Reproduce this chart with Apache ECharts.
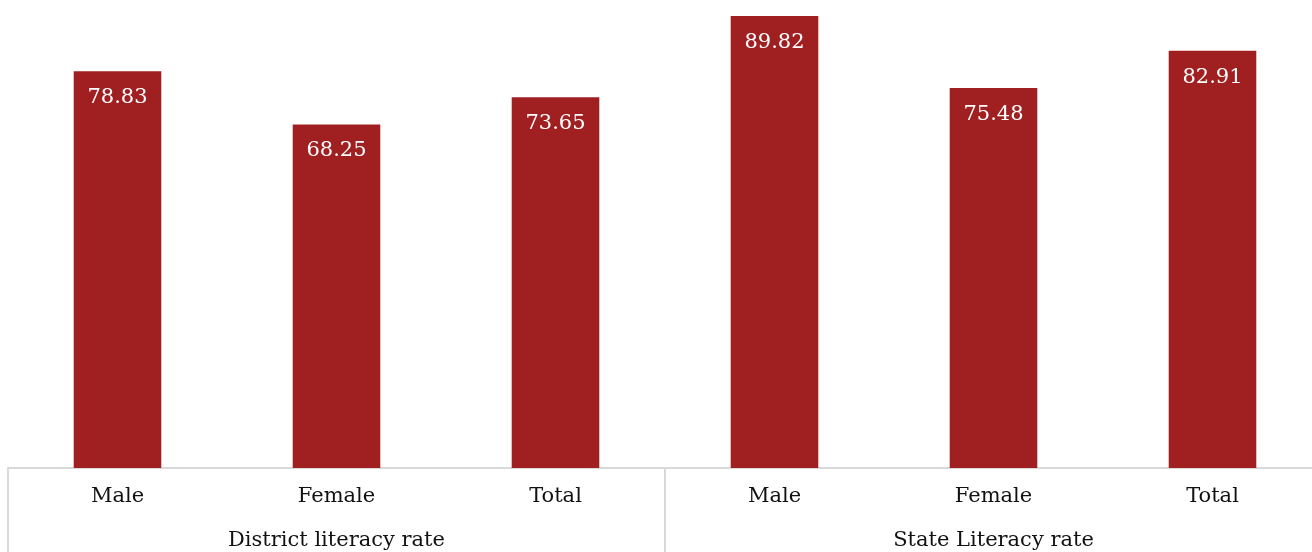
<!DOCTYPE html>
<html>
<head>
<meta charset="utf-8">
<style>
  html, body { margin: 0; padding: 0; background: #fff; overflow: hidden; }
  /* the plot runs a little past the right edge of the picture, as in the original */
  #chart { width: 1322px; height: 552px; }
</style>
<script src="https://cdn.jsdelivr.net/npm/echarts@6/dist/echarts.min.js"></script>
</head>
<body>
<div id="chart"></div>
<script>
const categories = ['Male', 'Female', 'Total', 'Male', 'Female', 'Total'];
const groups = ['District literacy rate', 'State Literacy rate'];
const rates = [78.83, 68.25, 73.65, 89.82, 75.48, 82.91];

const barColor = '#a01f21';
const lineColor = '#d9d9d9';
const font = 'DejaVu Serif';

const chart = echarts.init(document.getElementById('chart'));
chart.setOption({
    animation: false,
    grid: { left: 8, right: 0, top: 15, bottom: 84 },
    xAxis: [{
        type: 'category',
        data: categories,
        position: 'bottom',
        axisLine: { lineStyle: { color: lineColor, width: 2 } },
        axisTick: { show: false },
        axisLabel: { color: '#111', fontFamily: font, fontSize: 21, margin: 18 }
    }, {
        type: 'category',
        data: groups,
        position: 'bottom',
        axisLine: { show: false },
        axisTick: { show: true, length: 90, lineStyle: { color: lineColor, width: 2 } },
        axisLabel: { color: '#111', fontFamily: font, fontSize: 21, margin: 62 }
    }],
    yAxis: {
        type: 'value',
        min: 0,
        max: 90,
        show: false
    },
    series: [{
        type: 'bar',
        data: rates,
        barWidth: '40%',
        itemStyle: { color: barColor },
        label: {
            show: true,
            position: 'insideTop',
            distance: 16,
            color: '#fff',
            fontFamily: font,
            fontSize: 21,
            formatter: p => p.value.toFixed(2)
        }
    }]
});
</script>
</body>
</html>
